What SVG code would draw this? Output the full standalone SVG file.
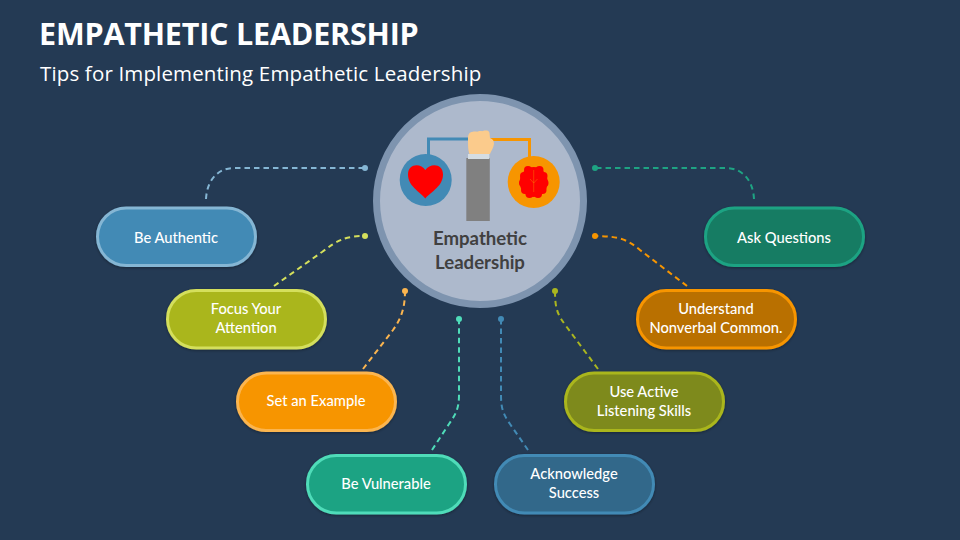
<svg xmlns="http://www.w3.org/2000/svg" width="960" height="540" viewBox="0 0 960 540">
<style>
text{font-family:"Lato","Open Sans","Liberation Sans",sans-serif}
.t{font-family:"Open Sans","Liberation Sans",sans-serif;fill:#fff}
.l{font-size:14.7px;font-weight:500;fill:#fff;text-anchor:middle}
.c{font-size:18.6px;font-weight:700;fill:#404040;text-anchor:middle}
.p{stroke-width:3;filter:url(#s)}
.d{fill:none;stroke-width:2;stroke-dasharray:5.500 4}
</style>
<defs><filter id="s" x="-10%" y="-20%" width="120%" height="140%"><feDropShadow dx="0" dy="1" stdDeviation="1.500" flood-color="#000" flood-opacity=".35"/></filter></defs>
<rect width="960" height="540" fill="#243a54"/>
<text class="t" x="39" y="45" font-size="30.500" font-weight="700" letter-spacing="-.2">EMPATHETIC LEADERSHIP</text>
<text class="t" x="40" y="81" font-size="20.500" font-weight="500" letter-spacing=".15">Tips for Implementing Empathetic Leadership</text>
<g id="connectors">
<path class="d" stroke="#85b6d4" d="M206 199C207 180 218 168 234 168H365"/><circle cx="365" cy="168" r="3" fill="#85b6d4"/>
<path class="d" stroke="#d4df5c" d="M274 286L322 252C338 240 345 236 365 236"/><circle cx="365" cy="236" r="3" fill="#d4df5c"/>
<path class="d" stroke="#fbb54f" d="M363 369L393 330C400 320 405 310 405 291"/><circle cx="405" cy="291" r="3" fill="#fbb54f"/>
<path class="d" stroke="#4fdcb9" d="M432 450L449 424C456 414 459 408 459 395V319"/><circle cx="459" cy="319" r="3" fill="#4fdcb9"/>
<path class="d" stroke="#428ab5" d="M528 450L510 424C503 414 501 408 501 395V319"/><circle cx="501" cy="319" r="3" fill="#428ab5"/>
<path class="d" stroke="#aab61f" d="M598 369L566 326C558 315 555 310 555 291"/><circle cx="555" cy="291" r="3" fill="#aab61f"/>
<path class="d" stroke="#f79500" d="M687 286L640 250C628 240 620 236 595 236"/><circle cx="595" cy="236" r="3" fill="#f79500"/>
<path class="d" stroke="#1ea383" d="M754 199C753 180 742 168 726 168H595"/><circle cx="595" cy="168" r="3" fill="#1ea383"/>
</g>
<g id="center">
<circle cx="480" cy="201" r="103.500" fill="#adb9cc" stroke="#7e94af" stroke-width="7"/>
<path d="M428.500 155V139H470" fill="none" stroke="#428ab5" stroke-width="3"/>
<path d="M490 139.500H529.500V158" fill="none" stroke="#f79500" stroke-width="3"/>
<circle cx="425.700" cy="180" r="26" fill="#428ab5"/>
<circle cx="533.700" cy="182" r="26" fill="#f79500"/>
<path d="M425.300 198.500C419 191 408 186 408 174.500C408 163 421 163 425.300 170C430 163 443 163 443 174.500C443 186 432 191 425.300 198.500Z" fill="#f00"/>
<g id="brain" fill="#f00"><ellipse cx="533.700" cy="182" rx="14" ry="15"/><circle cx="528" cy="170" r="4"/><circle cx="539.500" cy="170" r="4"/><circle cx="524" cy="176" r="4"/><circle cx="543.500" cy="176" r="4"/><circle cx="523" cy="183" r="4"/><circle cx="544.500" cy="183" r="4"/><circle cx="525" cy="190" r="4"/><circle cx="542.500" cy="190" r="4"/><circle cx="529.500" cy="194" r="4"/><circle cx="538" cy="194" r="4"/></g>
<path d="M533.700 170V192M533.700 183L530 179M533.700 183L537.500 179" stroke="#f79500" stroke-width=".4" fill="none"/>
<rect x="466.300" y="158" width="23.500" height="63" fill="#808080"/>
<rect x="468" y="154" width="21.300" height="5" fill="#d5dde3"/>
<path d="M468 138C468 134 470 132 472 132C475 131 477 132 478 131.500C480 130.500 482 131.500 483 131C485 130.500 489 130 489.500 133L490 138C493 139 494 141 494 144C493.500 148 491 151 490 154H469.500C468 150 468 146 468 138Z" fill="#fbcb8c"/>
<text class="c" x="480" y="245">Empathetic</text>
<text class="c" x="480" y="269">Leadership</text>
</g>
<g id="be-authentic"><rect class="p" x="97.500" y="208" width="158" height="57.500" rx="28.700" fill="#428ab5" stroke="#85b6d4"/><text class="l" x="176" y="243">Be Authentic</text></g>
<g id="focus-your-attention"><rect class="p" x="167.500" y="290.500" width="158" height="57.500" rx="28.700" fill="#aab61f" stroke="#d4df5c"/><text class="l" x="246" y="314">Focus Your</text><text class="l" x="246" y="333">Attention</text></g>
<g id="set-an-example"><rect class="p" x="237.500" y="373" width="158" height="57.500" rx="28.700" fill="#f79500" stroke="#fbb54f"/><text class="l" x="316" y="406">Set an Example</text></g>
<g id="be-vulnerable"><rect class="p" x="307.500" y="455.500" width="158" height="57.500" rx="28.700" fill="#1ea383" stroke="#4fdcb9"/><text class="l" x="386" y="489">Be Vulnerable</text></g>
<g id="acknowledge-success"><rect class="p" x="495.500" y="455.500" width="158" height="57.500" rx="28.700" fill="#31688a" stroke="#428ab5"/><text class="l" x="574" y="479">Acknowledge</text><text class="l" x="574" y="498">Success</text></g>
<g id="use-active-listening-skills"><rect class="p" x="565.500" y="373" width="158" height="57.500" rx="28.700" fill="#7e8a1b" stroke="#aab61f"/><text class="l" x="644" y="397">Use Active</text><text class="l" x="644" y="416">Listening Skills</text></g>
<g id="understand-nonverbal"><rect class="p" x="637.500" y="290.500" width="158" height="57.500" rx="28.700" fill="#b96f00" stroke="#f79500"/><text class="l" x="716" y="314">Understand</text><text class="l" x="716" y="333">Nonverbal Common.</text></g>
<g id="ask-questions"><rect class="p" x="705.500" y="208" width="158" height="57.500" rx="28.700" fill="#177b63" stroke="#1ea383"/><text class="l" x="784" y="243">Ask Questions</text></g>
</svg>
